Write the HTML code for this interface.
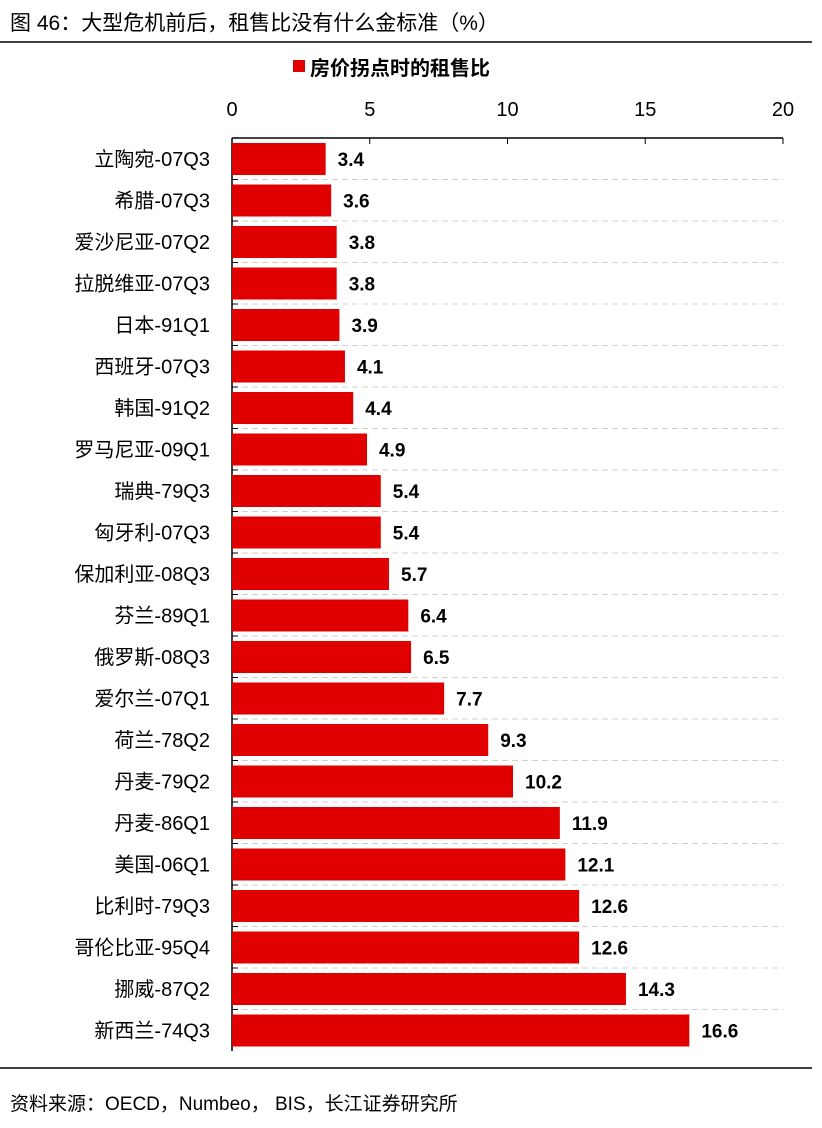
<!DOCTYPE html>
<html><head><meta charset="utf-8"><style>
body{margin:0;background:#fff;width:822px;height:1128px;overflow:hidden;font-family:"Liberation Sans","Noto Sans CJK SC",sans-serif}
svg{position:absolute;left:0;top:0}
</style></head><body>
<svg id="c" width="822" height="1128">
<text x="10" y="30" font-size="21" fill="#000" font-family="Liberation Sans, Noto Sans CJK SC, sans-serif">图  46：大型危机前后，租售比没有什么金标准（%）</text>
<line x1="0" y1="42" x2="812" y2="42" stroke="#000" stroke-width="1.5"/>
<rect x="293" y="60" width="12" height="12" fill="#e00000"/>
<text x="310" y="75" font-size="20" font-weight="bold" font-family="Liberation Sans, Noto Sans CJK SC, sans-serif">房价拐点时的租售比</text>
<line x1="0" y1="1068" x2="812" y2="1068" stroke="#000" stroke-width="1.5"/>
<text x="10" y="1110" font-size="19" font-family="Liberation Sans, Noto Sans CJK SC, sans-serif">资料来源：OECD，Numbeo，  BIS，长江证券研究所</text>
<g id="plot"></g>
</svg>
<script>
const categories=["立陶宛-07Q3","希腊-07Q3","爱沙尼亚-07Q2","拉脱维亚-07Q3","日本-91Q1","西班牙-07Q3","韩国-91Q2","罗马尼亚-09Q1","瑞典-79Q3","匈牙利-07Q3","保加利亚-08Q3","芬兰-89Q1","俄罗斯-08Q3","爱尔兰-07Q1","荷兰-78Q2","丹麦-79Q2","丹麦-86Q1","美国-06Q1","比利时-79Q3","哥伦比亚-95Q4","挪威-87Q2","新西兰-74Q3"];
const values=[3.4,3.6,3.8,3.8,3.9,4.1,4.4,4.9,5.4,5.4,5.7,6.4,6.5,7.7,9.3,10.2,11.9,12.1,12.6,12.6,14.3,16.6];
const ticks=[0,5,10,15,20];
const NS="http://www.w3.org/2000/svg";
const plotG=document.getElementById('plot');
const x0=232,x1=783,plotTop=138,rowH=41.5;
const xs=v=>x0+(v-ticks[0])/(ticks[ticks.length-1]-ticks[0])*(x1-x0);
const ys=i=>plotTop+i*rowH;
function mk(t,a){const e=document.createElementNS(NS,t);for(const k in a)e.setAttribute(k,a[k]);plotG.appendChild(e);return e;}
const F="Liberation Sans, Noto Sans CJK SC, sans-serif";
for(let i=1;i<categories.length;i++){
 const l=mk('line',{x1:x0,y1:ys(i),x2:x1,y2:ys(i),stroke:'#d0d0d0','stroke-dasharray':'6,4'});
 
 
 const tk=mk('line',{x1:x0,y1:ys(i),x2:x0+6,y2:ys(i),stroke:'#000'});
 
 
}
const ax=mk('line',{x1:x0,y1:plotTop,x2:x1,y2:plotTop,stroke:'#000','stroke-width':1.5});


const ay=mk('line',{x1:x0,y1:plotTop,x2:x0,y2:ys(categories.length),stroke:'#000','stroke-width':1.5});


ticks.forEach(t=>{
 const tl=mk('line',{x1:xs(t),y1:plotTop,x2:xs(t),y2:plotTop+6,stroke:'#000'});
 
 
 const tx=mk('text',{x:xs(t),y:116,'font-size':20,'text-anchor':'middle','font-family':F});
 tx.textContent=t;
 
 
});
categories.forEach((c,i)=>{
 const y=ys(i);
 const b=mk('rect',{x:x0,y:y+5,width:xs(values[i])-x0,height:32,fill:'#e00000'});
 
 
 const lb=mk('text',{x:210,y:y+28,'font-size':20,'text-anchor':'end','font-family':F});
 lb.textContent=c;
 
 
 const v=mk('text',{x:xs(values[i])+12,y:y+28,'font-size':19,'font-weight':'bold','font-family':F});
 v.textContent=values[i].toFixed(1);
 
 
});
</script>
</body></html>
